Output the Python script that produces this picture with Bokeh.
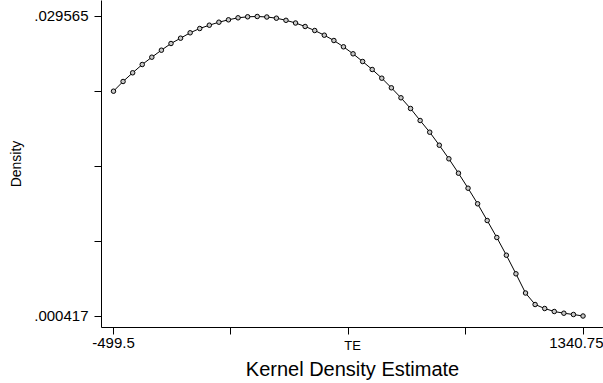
from bokeh.plotting import figure
from bokeh.models import FixedTicker, Range1d, Title
from bokeh.embed import file_html
from bokeh.resources import INLINE

# Kernel density estimate: 50 evaluation points of TE
x_min, x_max = -499.5, 1340.75
n_points = 50
te = [x_min + i * (x_max - x_min) / (n_points - 1) for i in range(n_points)]
density = [
    0.022295, 0.023239, 0.024086, 0.024893, 0.025604, 0.026285, 0.026937, 0.027453, 0.027979, 0.028397,
    0.028718, 0.029010, 0.029244, 0.029438, 0.029536, 0.029565, 0.029517, 0.029400, 0.029195, 0.028932,
    0.028592, 0.028202, 0.027745, 0.027229, 0.026616, 0.025935, 0.025185, 0.024407, 0.023560, 0.022626,
    0.021653, 0.020611, 0.019443, 0.018305, 0.017040, 0.015716, 0.014315, 0.012855, 0.011337, 0.009711,
    0.008057, 0.006334, 0.004524, 0.002655, 0.001536, 0.001147, 0.000855, 0.000689, 0.000563, 0.000417,
]
y_min, y_max = 0.000417, 0.029565
y_ticks = [y_min + k * (y_max - y_min) / 4 for k in range(5)]
x_ticks = [x_min + k * (x_max - x_min) / 4 for k in range(5)]
y_tick_labels = {y_ticks[0]: ".000417", y_ticks[-1]: ".029565"}
x_tick_labels = {x_ticks[0]: "-499.5", x_ticks[-1]: "1340.75"}

FONT = "Liberation Sans"

p = figure(width=603, height=383, output_backend="svg", toolbar_location=None,
           x_range=Range1d(-546.5, 1421.0), y_range=Range1d(-0.000702, 0.031122),
           min_border_left=101, min_border_right=0, min_border_top=0, min_border_bottom=56)
p.outline_line_color = None
p.xgrid.visible = False
p.ygrid.visible = False
p.background_fill_color = "white"
p.border_fill_color = "white"

p.line(te, density, line_color="black", line_width=1)
p.scatter(te, density, marker="circle", size=4.5, line_color="black", line_width=1,
          fill_color="#c8c8c8")

for ax in (p.xaxis[0], p.yaxis[0]):
    ax.axis_line_color = "black"
    ax.major_tick_line_color = "black"
    ax.major_tick_out = 7
    ax.major_tick_in = 0
    ax.minor_tick_line_color = None
    ax.major_label_text_font = FONT
    ax.major_label_text_font_size = "15px"
    ax.major_label_text_color = "black"
    ax.axis_label_text_font = FONT
    ax.axis_label_text_font_style = "normal"
    ax.axis_label_text_color = "black"

p.yaxis.ticker = FixedTicker(ticks=y_ticks)
p.yaxis.major_label_overrides = {t: y_tick_labels.get(t, "") for t in y_ticks}
p.yaxis.major_label_orientation = "horizontal"
p.yaxis.major_label_standoff = 6
p.yaxis.axis_label = "Density"
p.yaxis.axis_label_text_font_size = "14px"
p.yaxis.axis_label_standoff = 7

p.xaxis.ticker = FixedTicker(ticks=x_ticks)
p.xaxis.major_label_overrides = {t: x_tick_labels.get(t, "") for t in x_ticks}
p.xaxis.major_label_standoff = 3
p.xaxis.axis_label = "TE"
p.xaxis.axis_label_text_font_size = "13px"
p.xaxis.axis_label_standoff = -13

p.add_layout(Title(text="Kernel Density Estimate", align="center", text_font=FONT,
                   text_font_size="20px", text_font_style="normal", text_color="black",
                   standoff=0), "below")

open("out.html", "w").write(file_html(p, INLINE))
